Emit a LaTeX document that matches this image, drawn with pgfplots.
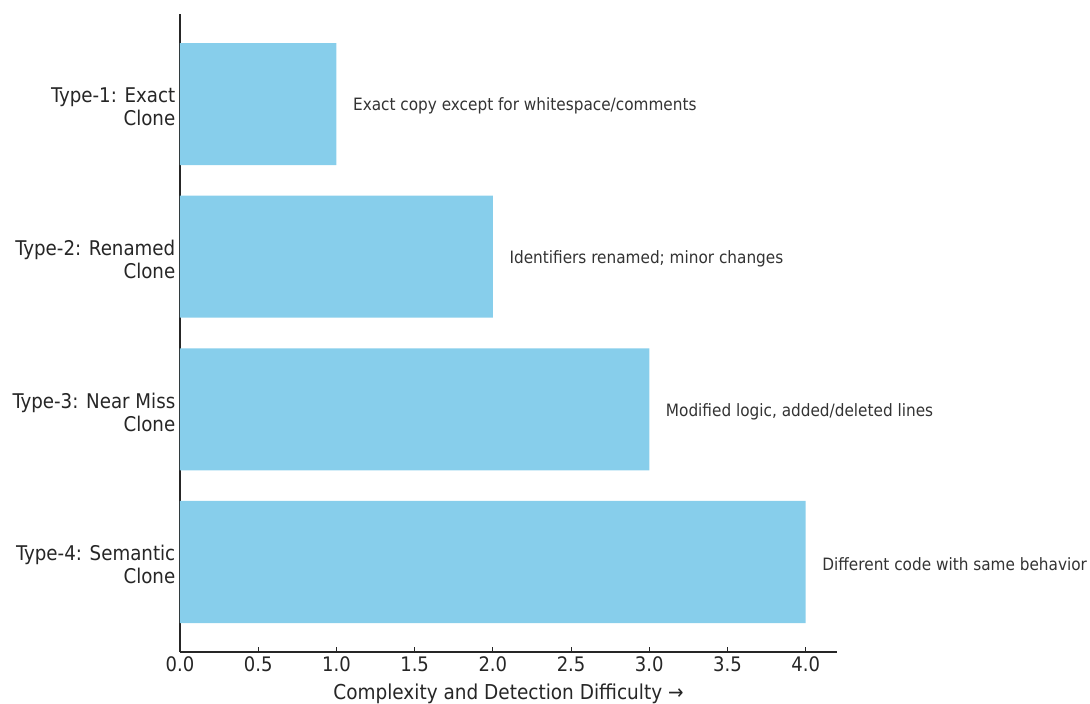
\documentclass[border=0pt]{standalone}
\usepackage{fontspec}
\setmainfont{DejaVu Sans Condensed}
\usepackage{pgfplots}
\usepackage{pgfplotstable}
\pgfplotsset{compat=1.18}
\definecolor{barblue}{HTML}{87CEEB}
\definecolor{txt}{HTML}{262626}
\definecolor{anno}{HTML}{333333}
\pgfplotstableread{
x y idx
1 0 0
2 1 1
3 2 2
4 3 3
}\datatable
\newcommand{\annot}[1]{\ifcase#1 Exact copy except for whitespace/comments\or Identifiers renamed; minor changes\or Modified logic, added/deleted lines\or Different code with same behavior\fi}
\begin{document}
\begin{tikzpicture}
\begin{axis}[
  scale only axis,
  width=492.75pt, height=478.5pt,
  xmin=0, xmax=4.2, ymin=-0.59, ymax=3.59,
  y dir=reverse,
  axis x line*=bottom, axis y line*=left,
  axis line style={draw=txt, line width=0.9pt},
  xbar, bar width=0.8,
  ytick={0,1,2,3},
  yticklabels={{Type-1: Exact\\Clone},{Type-2: Renamed\\Clone},{Type-3: Near Miss\\Clone},{Type-4: Semantic\\Clone}},
  yticklabel style={align=right, font=\fontsize{15.2}{17.2}\selectfont, text=txt, yshift=-2pt},
  xtick={0,0.5,...,4.01},
  xticklabel style={font=\fontsize{15}{17}\selectfont, text=txt, /pgf/number format/fixed, /pgf/number format/precision=1, /pgf/number format/fixed zerofill},
  /pgf/number format/assume math mode=true,
  tick align=inside,
  major tick length=4pt,
  tick style={draw=txt, line width=0.8pt},
  xlabel={Complexity and Detection Difficulty →},
  xlabel style={font=\fontsize{15.4}{17}\selectfont, text=txt, yshift=-2.5pt},
  point meta=explicit symbolic,
  nodes near coords={\annot{\pgfplotspointmeta}},
  nodes near coords style={anchor=west, xshift=9pt, yshift=-1.5pt, font=\fontsize{12.75}{14}\selectfont, text=anno},
]
\addplot[fill=barblue, draw=none] table[x=x, y=y, meta=idx] {\datatable};
\end{axis}
\pgfresetboundingbox
\path[use as bounding box] (-135pt,-39pt) rectangle (682.5pt,489pt);
\end{tikzpicture}
\end{document}
